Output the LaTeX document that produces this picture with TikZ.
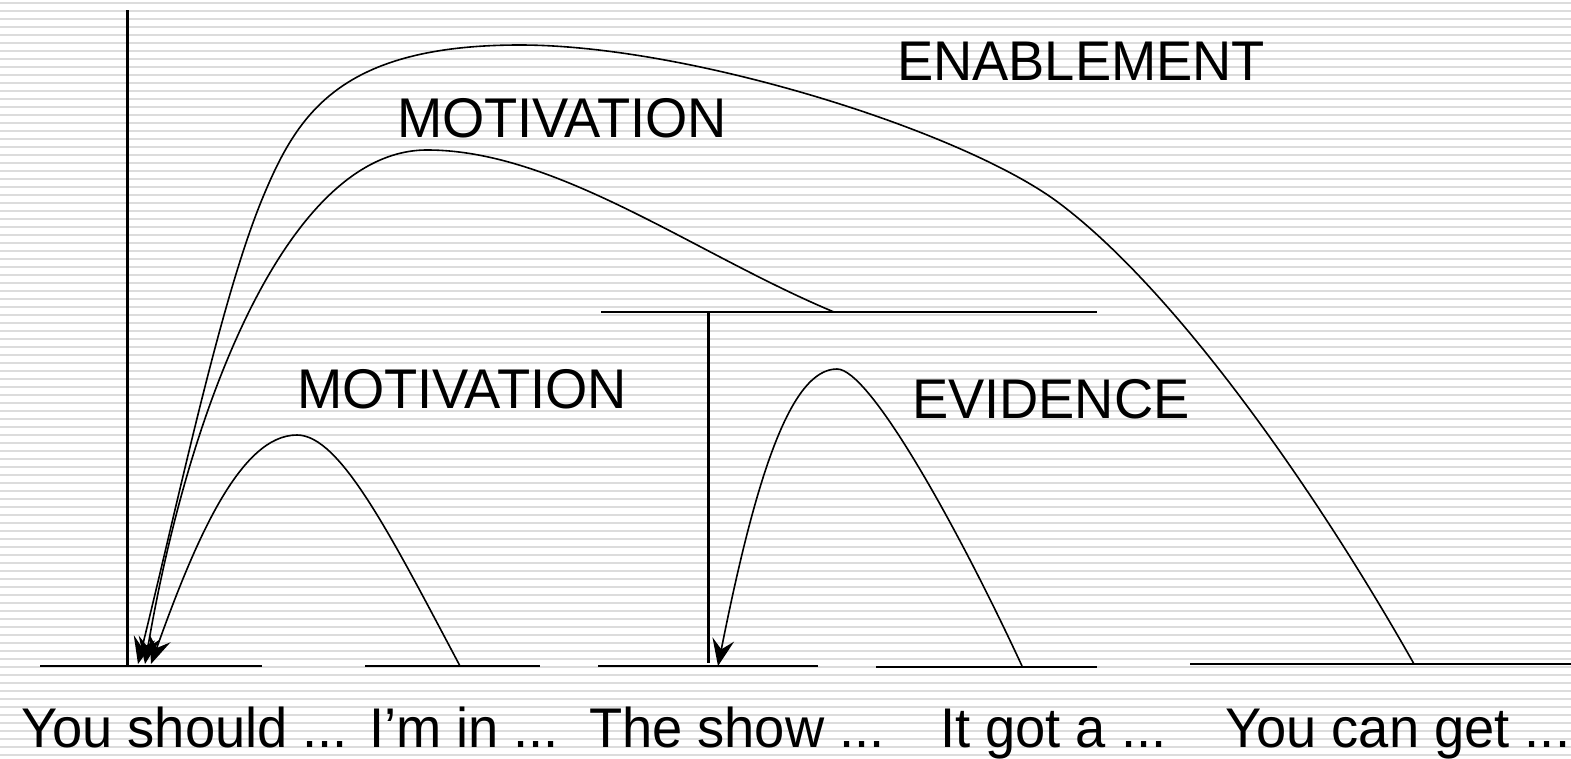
\documentclass[tikz,border=0pt]{standalone}
\usepackage{fontspec}
\setmainfont{Liberation Sans}
\usetikzlibrary{arrows.meta}
\tikzset{
  bgline/.style={draw={rgb,255:red,220;green,220;blue,220}, line width=1.7pt},
  rule/.style={draw=black, line width=2.2pt},
  arc/.style={draw=black, line width=1.6pt},
  arcarrow/.style={arc, -{Stealth[length=27pt,width=22pt,inset=10pt]}},
  lbl/.style={anchor=base west, inner sep=0pt, outer sep=0pt, font=\fontsize{54.3}{60}\selectfont}
}
\newcommand{\tall}[1]{\scalebox{1}[1.03]{#1}}
\begin{document}
\begin{tikzpicture}[x=1pt,y=-1pt]
\useasboundingbox (0,0) rectangle (1571,758);
\fill[white] (0,0) rectangle (1571,758);
\foreach \k in {0,...,94} {
  \draw[bgline] (0,{2.7+8*\k}) -- (1571,{2.7+8*\k});
}
% baselines
\coordinate (b1a) at (40,666);  \coordinate (b1b) at (262,666);
\coordinate (b2a) at (365,666); \coordinate (b2b) at (540,666);
\coordinate (b3a) at (598,666); \coordinate (b3b) at (818,666);
\coordinate (b4a) at (876,667); \coordinate (b4b) at (1097,667);
\coordinate (b5a) at (1190,664); \coordinate (b5b) at (1571,664);
\draw[rule] (b1a) -- (b1b);
\draw[rule] (b2a) -- (b2b);
\draw[rule] (b3a) -- (b3b);
\draw[rule] (b4a) -- (b4b);
\draw[rule] (b5a) -- (b5b);
% verticals and top bar
\coordinate (vl-top) at (127.5,10); \coordinate (vl-bot) at (127.5,666);
\draw[rule] (vl-top) -- (vl-bot);
\coordinate (bar-a) at (601,312); \coordinate (bar-b) at (1097,312);
\coordinate (bar-m) at (834,312);
\draw[rule] (bar-a) -- (bar-b);
\coordinate (vm-top) at (708.5,312); \coordinate (vm-bot) at (708.5,663);
\draw[rule] (vm-top) -- (vm-bot);
% arc endpoints
\coordinate (en-s) at (1414,664);
\coordinate (en-m) at (1059,203);
\coordinate (en-p) at (520,45);
\coordinate (en-q) at (263,197);
\coordinate (en-t) at (138,664);
\coordinate (mo-p) at (427,150);
\coordinate (mo-t) at (145,664);
\coordinate (sm-s) at (460,666);
\coordinate (sm-p) at (297,435);
\coordinate (sm-t) at (151,664);
\coordinate (ev-s) at (1022,666);
\coordinate (ev-p) at (837,369);
\coordinate (ev-t) at (718,666);
% ENABLEMENT
\draw[arcarrow] (en-s) .. controls (1321,499) and (1179,293) .. (en-m)
  .. controls (963,131) and (690,45) .. (en-p)
  .. controls (340,45) and (297.6,113.9) .. (en-q)
  .. controls (220.7,298.5) and (178.8,499) .. (en-t);
% big MOTIVATION
\draw[arcarrow] (bar-m) .. controls (695,254) and (557,150) .. (mo-p)
  .. controls (290,150) and (190,400) .. (mo-t);
% small MOTIVATION
\draw[arcarrow] (sm-s) .. controls (390,534) and (340,435) .. (sm-p)
  .. controls (240,435) and (195,541) .. (sm-t);
% EVIDENCE
\draw[arcarrow] (ev-s) .. controls (959,530) and (870,369) .. (ev-p)
  .. controls (790,369) and (755,480) .. (ev-t);
% labels
\node[lbl] (l-en) at (897,80) {\tall{ENABLEMENT}};
\node[lbl] (l-mo1) at (397,137) {\tall{MOTIVATION}};
\node[lbl] (l-mo2) at (297,408) {\tall{MOTIVATION}};
\node[lbl] (l-ev) at (912,418) {\tall{EVIDENCE}};
\node[lbl] (t1) at (21,747) {\tall{You should ...}};
\node[lbl] (t2) at (369,747) {\tall{I’m in ...}};
\node[lbl] (t3) at (589,747) {\tall{The show ...}};
\node[lbl] (t4) at (940,747) {\tall{It got a ...}};
\node[lbl] (t5) at (1225,747) {\tall{You can get ...}};
\end{tikzpicture}
\end{document}
